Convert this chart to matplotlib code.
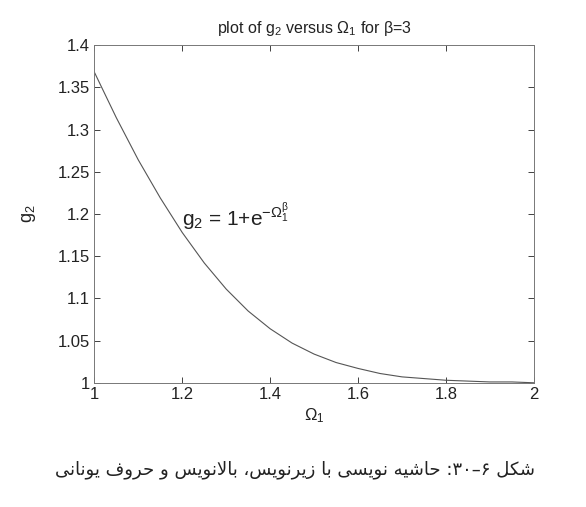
import matplotlib
matplotlib.use("Agg")
import matplotlib.pyplot as plt

omega1 = [1.00, 1.05, 1.10, 1.15, 1.20, 1.25, 1.30, 1.35, 1.40, 1.45, 1.50,
          1.55, 1.60, 1.65, 1.70, 1.75, 1.80, 1.85, 1.90, 1.95, 2.00]
g2 = [1.368, 1.314, 1.264, 1.219, 1.178, 1.142, 1.111, 1.085, 1.064, 1.047, 1.034,
      1.024, 1.017, 1.011, 1.007, 1.005, 1.003, 1.002, 1.001, 1.001, 1.000]

xticks = [1, 1.2, 1.4, 1.6, 1.8, 2]
yticks = [1, 1.05, 1.1, 1.15, 1.2, 1.25, 1.3, 1.35, 1.4]
ytick_labels = ["1", "1.05", "1.1", "1.15", "1.2", "1.25", "1.3", "1.35", "1.4"]

caption = "شکل ۶–۳۰: حاشیه نویسی با زیرنویس، بالانویس و حروف یونانی"

# matplotlib has no Arabic shaping, so pick presentation forms by hand
FORMS = {
    'ا': ('\uFE8D', '\uFE8E', None, None),
    'ب': ('\uFE8F', '\uFE90', '\uFE91', '\uFE92'),
    'ح': ('\uFEA1', '\uFEA2', '\uFEA3', '\uFEA4'),
    'ر': ('\uFEAD', '\uFEAE', None, None),
    'ز': ('\uFEAF', '\uFEB0', None, None),
    'س': ('\uFEB1', '\uFEB2', '\uFEB3', '\uFEB4'),
    'ش': ('\uFEB5', '\uFEB6', '\uFEB7', '\uFEB8'),
    'ف': ('\uFED1', '\uFED2', '\uFED3', '\uFED4'),
    'ل': ('\uFEDD', '\uFEDE', '\uFEDF', '\uFEE0'),
    'ن': ('\uFEE5', '\uFEE6', '\uFEE7', '\uFEE8'),
    'ه': ('\uFEE9', '\uFEEA', '\uFEEB', '\uFEEC'),
    'و': ('\uFEED', '\uFEEE', None, None),
    'ک': ('\uFB8E', '\uFB8F', '\uFB90', '\uFB91'),
    'ی': ('\uFBFC', '\uFBFD', '\uFBFE', '\uFBFF'),
    'LA': ('\uFEFB', '\uFEFC', None, None),
}
DIGITS = "۰۱۲۳۴۵۶۷۸۹"


def shape(text):
    chars = []
    i = 0
    while i < len(text):
        if text[i:i + 2] == 'لا':
            chars.append('LA')
            i += 2
        else:
            chars.append(text[i])
            i += 1
    out = []
    for k, c in enumerate(chars):
        if c not in FORMS:
            out.append(c)
            continue
        prev = chars[k - 1] if k > 0 else None
        nxt = chars[k + 1] if k + 1 < len(chars) else None
        jp = prev in FORMS and FORMS[prev][2] is not None
        jn = FORMS[c][2] is not None and nxt in FORMS
        iso, fin, ini, med = FORMS[c]
        if jp and jn:
            out.append(med)
        elif jp:
            out.append(fin)
        elif jn:
            out.append(ini)
        else:
            out.append(iso)
    # visual order: reverse, but keep digit runs left to right
    out = out[::-1]
    res = []
    run = []
    for c in out:
        if c in DIGITS:
            run.append(c)
        else:
            res.extend(run[::-1])
            run = []
            res.append(c)
    res.extend(run[::-1])
    return "".join(res)


plt.rcParams['font.family'] = ['Liberation Sans', 'DejaVu Sans']
plt.rcParams['mathtext.fontset'] = 'custom'
plt.rcParams['mathtext.rm'] = 'Liberation Sans'
plt.rcParams['mathtext.it'] = 'Liberation Sans'
plt.rcParams['mathtext.bf'] = 'Liberation Sans'

fig = plt.figure(figsize=(5.86, 5.07), dpi=100)
ax = fig.add_axes([0.161, 0.245, 0.750, 0.666])

ax.plot(omega1, g2, color='#555555', linewidth=0.8)

ax.set_xlim(1, 2)
ax.set_ylim(1, 1.4)
ax.set_xticks(xticks)
ax.set_xticklabels([str(t) for t in xticks])
ax.set_yticks(yticks)
ax.set_yticklabels(ytick_labels)
ax.tick_params(direction='in', top=True, right=True, length=4, width=0.6,
               labelsize=12, colors='#222222', pad=3)
for s in ax.spines.values():
    s.set_linewidth(0.7)
    s.set_color('#777777')

ax.set_title(r'plot of g$_2$ versus $\Omega_1$ for $\beta$=3', fontsize=11.5, pad=9, color='#222222')
ax.set_xlabel(r'$\Omega_1$', fontsize=12, color='#222222', labelpad=3)
ax.set_ylabel(r'g$_2$', fontsize=13, color='#222222', labelpad=14)

ax.text(1.2, 1.185, r'g$_2$ = 1+e$^{-\Omega_1^\beta}$', fontsize=15, color='#222222')

fig.text(0.503, 0.073, shape(caption), ha='center', va='center', fontsize=13,
         family=['DejaVu Sans'], color='#222222')

fig.savefig('out.png', dpi=100)
